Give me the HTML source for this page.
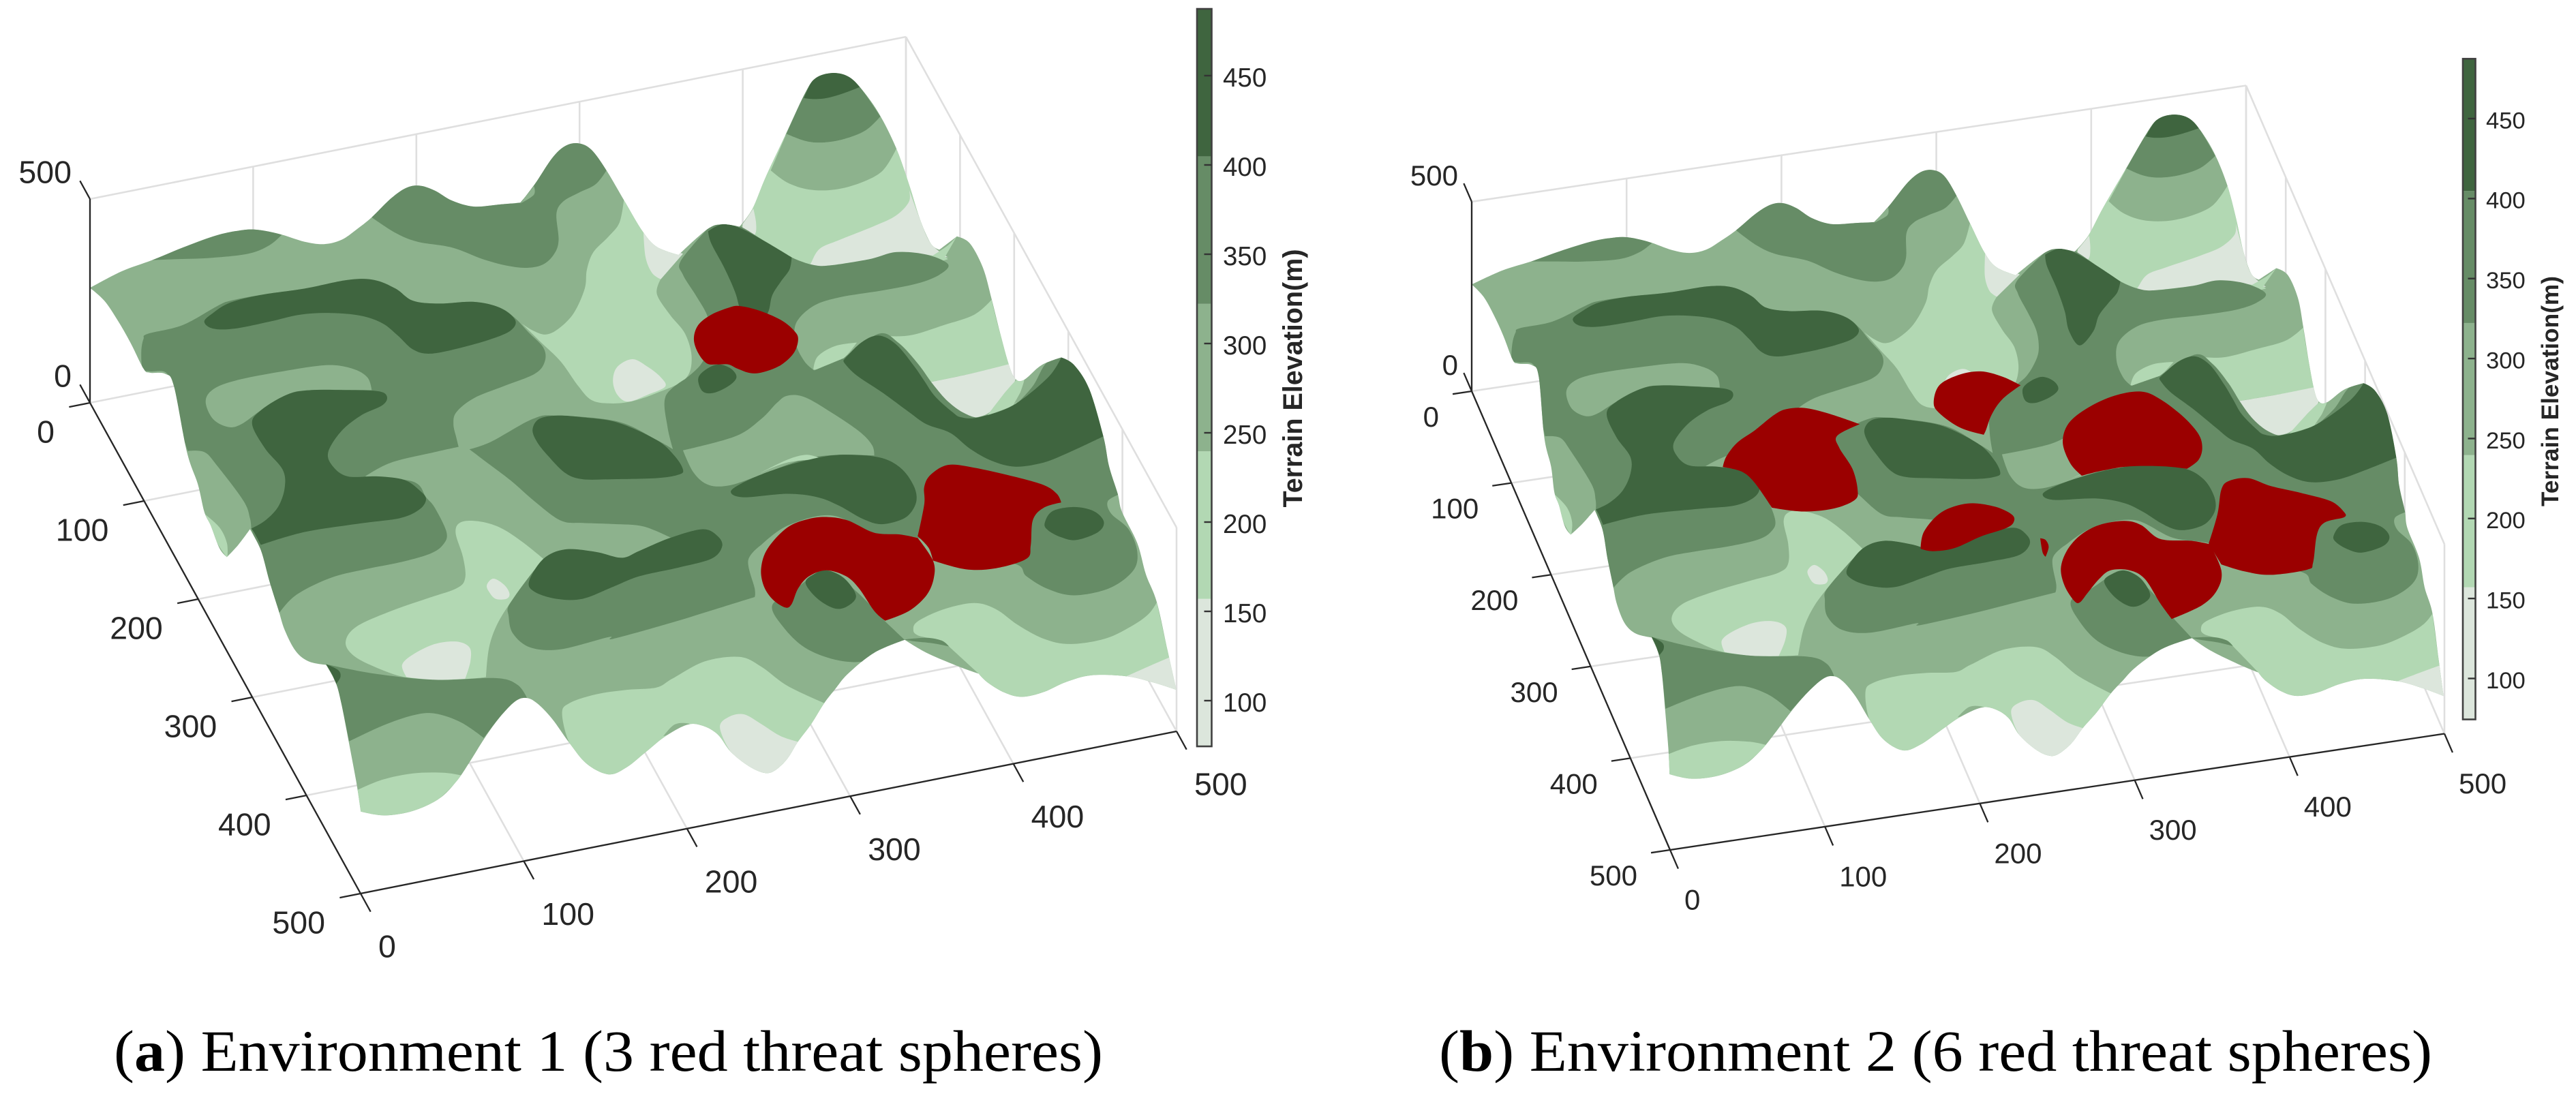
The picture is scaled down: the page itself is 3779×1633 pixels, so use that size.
<!DOCTYPE html>
<html lang="en">
<head>
<meta charset="utf-8">
<title>Terrain environments with threat spheres</title>
<style>
html,body{margin:0;padding:0;background:#fff;}
svg{display:block;}
text{font-family:"Liberation Sans",Arial,sans-serif;fill:#262626;}
.cap{font-family:"Liberation Serif",serif;fill:#000;}
</style>
</head>
<body>
<svg id="fig" xmlns="http://www.w3.org/2000/svg" width="3779" height="1633" viewBox="0 0 3779 1633">
  <text class="cap" x="167" y="1571" font-size="86" textLength="1451" lengthAdjust="spacingAndGlyphs">(<tspan font-weight="bold">a</tspan>) Environment 1 (3 red threat spheres)</text>
  <text class="cap" x="2111" y="1571" font-size="86" textLength="1457" lengthAdjust="spacingAndGlyphs">(<tspan font-weight="bold">b</tspan>) Environment 2 (6 red threat spheres)</text>
</svg>
<script>
// ---- chart values ----
const xTickValues = [0,100,200,300,400,500];
const yTickValues = [0,100,200,300,400,500];
const zTickValues = [0,500];
const colorbarTickValues = [100,150,200,250,300,350,400,450];
const elevationLevels = [74.4,157,239.6,322.2,404.8,487.4];
const bandColors = ['#dce6dc','#b2d8b3','#8db28d','#668c66','#3f653f'];
const threatColor = '#9b0000';

// ---- terrain contour outlines ----
const surfaceOutline = "A 207,828! 280,780 350,748 420,712 490,680 540,665 585,660 640,672 700,695 745,702 785,690 820,660 855,625 900,570 935,540 965,534 1000,548 1040,577 1090,594 1150,588 1197,583! 1230,530 1270,455 1300,420 1330,412 1360,430 1395,490 1435,575 B 67,665 100,710 150,733! 215,660 250,645 290,652! 320,600 350,510 395,390 440,270 465,225 503,210 540,220 570,255 610,325 650,425 680,530 705,630 730,700 750,718! 790,680! 820,700 850,770 870,860 890,960 910,1050 925,1090 945,1092 985,1050 1030,1028! 1060,1050 1095,1120 1127,1255 1140,1340 D 1160,48 1170,100 1205,190 1225,280 1250,360 1275,500 1295,612! 1240,590 1180,573 1100,570 1040,590 990,618 940,632 900,620 860,590 840,565! 795,545 720,505 670,468! 600,505 540,565 510,610 485,650 455,710 425,760 400,810 370,845 345,850 310,830 270,790 240,740 205,715 170,712 120,745 75,790 30,835 C 1400,855 1350,825 1310,765 1270,695 1235,650 1210,635 1185,645 1150,690 1115,750 1080,820 1050,875 1010,925 950,960 885,973 830,962! 820,880 802,760 785,650 772,590 750,540! 710,530 680,500 655,440 640,380 620,300 600,210 575,150! 548,195 522,230! 505,205 485,140 470,100 455,20 A 430,1300 400,1110 380,1075 345,1072 330,1060 300,985 270,920 240,865";

const terrainLayers = [
 ['far-peak-band-200', 1, "B 297,650! 320,600 350,510 395,390 650,425 680,530 705,630 730,700 770,745! 600,800 450,800 300,800"],
 ['far-peak-band-300', 2, "B 362,490! 400,525 450,545 510,545 570,525 620,490 652,425! 612,335 580,375 530,400 480,410 440,405 398,385!"],
 ['far-peak-band-350', 3, "B 398,385! 440,405 480,410 530,400 580,375 614,335! 570,255 540,220 503,210 465,225 440,270"],
 ['far-peak-cap', 4, "B 438,282! 460,285 490,282 530,268 567,250! 540,215 503,205 465,220"],
 ['far-valley-pale', 0, "B 680,545! 705,630 730,700 770,740! 700,730 650,725 590,745 500,763 450,770! 455,755 475,715 520,690 600,650 650,620 680,580"],
 ['far-valley-pale-small', 0, "B 297,645! 322,600! 328,640 325,675 297,690!"],
 ['back-basin-band-200', 1, "A 1435,575! 1425,640 1400,680 1365,725 1350,775 1345,830 1320,900 1285,945 1255,962 1225,950 1200,930! 1245,985 1290,1040 1330,1110 1360,1150 1400,1160 1450,1155 1511,1130 1576,1090 1591,1030 1576,960 1541,905 1511,845 1521,800! 1571,730! 1561,725 1511,700 1478,650!"],
 ['back-valley-pale', 0, "A 1480,665! 1485,740 1500,785 1520,803! 1571,730! 1561,725 1511,700"],
 ['basin-oval-pale', 0, "A 1410,1095 1420,1055 1455,1033 1490,1055 1520,1085 1530,1112 1490,1135 1445,1155 1420,1135"],
 ['back-left-band-350', 3, "A 350,748! 420,712 490,680 540,660 585,655 648,675! 620,705 570,730 480,742 410,745"],
 ['back-ridge-band-350', 3, "A 855,625! 900,565 935,535 965,530 1000,545 1040,572 1090,590 1150,584 1197,580 1230,525 1270,450 1300,415 1330,408 1360,425 1395,490! 1370,530 1330,555 1295,580 1280,615 1285,690 1275,730 1250,760 1215,770 1170,765 1110,745 1040,712 960,695 910,670"],
 ['back-ridge-sliver', 2, "A 1197,585! 1228,535! 1228,560"],
 ['right-ridge-band-200', 1, "B 610,965! 680,965 760,935 830,905 870,862! 890,960 915,1047! 820,1075 725,1100! 690,1050 650,990"],
 ['right-valley-pale', 0, "B 725,1100! 820,1075 910,1047! 925,1090 900,1130 860,1190 800,1200 760,1165"],
 ['right-sliver-band-200', 1, "B 860,1195! 900,1130 930,1090 945,1092 925,1165!"],
 ['right-sliver-band-300', 2, "B 920,1165! 945,1110 975,1055 1000,1040 965,1110"],
 ['right-sliver-band-350', 3, "B 925,1165! 965,1110 995,1045 1030,1028! 1000,1090"],
 ['top-sliver-band-200', 1, "B 732,737! 770,705 790,680! 760,745!"],
 ['ridge-pocket-band-200', 1, "B 460,1063! 470,1025 510,995 560,985! 530,1030 490,1060"],
 ['central-band-350', 3, "B 215,660! 250,640 290,650 350,695 410,740 460,762 500,763 590,745 650,725 720,732 770,760 750,790 700,815 620,835 520,855 460,880 420,930 420,990 440,1040 462,1065! 530,1030! 610,960 655,985 700,1045 735,1105 770,1155 810,1190 850,1200 920,1170 1000,1090 1030,1025! 1065,1050 1100,1120 1132,1255 1145,1340 D 1163,50! 1137,70 1145,105 1185,150 1205,215 1195,270 1140,320 1060,340 1000,322 950,285 925,250 810,230 700,175 600,160 500,110 400,140 340,195! 310,240 325,320 325,345! 260,370 130,420 0,465 C 1400,460 1290,495 1220,490 1180,450 1170,400 1172,365 1218,285 1250,235! 1300,208 1370,215 1430,232 1471,212 1546,176! 1480,142 1411,135 1340,132 1290,125 1230,70 1175,10 A 1120,1330 1080,1292! 1130,1270 1225,1205 1280,1195 1420,1212 1510,1265 1548,1292! 1535,1225 1531,1140 1576,1090! B 200,1050 220,1000 225,960 215,905 190,850 160,790 155,750"],
 ['center-island-band-300', 2, "B 160,1295! 280,1255 340,1205 375,1160 400,1138 440,1142 500,1185 565,1240 595,1280 600,1310! 520,1308 440,1320 340,1365 270,1395 220,1395 185,1360"],
 ['center-island-band-200', 1, "B 335,1362! 400,1322 445,1308 480,1320! 400,1330"],
 ['left-band-350', 3, "A 330,975 340,960 420,935 500,880 530,865 600,848 700,830 800,805 860,805 910,830 950,865 1010,873 1090,868 1150,885 1185,915 1215,955 1250,1000 1253,1040 1230,1075 1160,1110 1090,1145 1050,1185 1043,1220 1050,1260 1055,1285! 1000,1300 900,1330 840,1370! 950,1385 980,1430 1000,1460 1027,1530 1020,1565 990,1592 920,1617 840,1637 760,1662 680,1712 640,1767! 615,1672 595,1582 578,1522! 575,1490 560,1440 500,1340 470,1300 432,1297! 415,1230 395,1110 380,1070 345,1068 328,1060 325,1010"],
 ['left-island-band-300', 2, "A 473,1155 490,1120 540,1095 640,1070 750,1050 810,1060 845,1085 855,1122! 715,1122 660,1135 600,1180 555,1220 525,1228 490,1205"],
 ['left-tip-band-200', 1, "C 470,105! 505,145 522,190 523,232! 500,190"],
 ['left-dark-ridge', 4, "A 470,925 490,900 530,870 600,848 700,830 800,805 860,805 910,830 950,865 1010,873 1090,868 1150,885 1185,920 1175,950 1130,975 1060,1000 990,1017 950,1005 915,965 880,930 830,908 760,900 690,905 620,925 540,945 490,945"],
 ['left-dark-s', 4, "A 580,1220 600,1180 660,1135 715,1122 800,1122 870,1125 890,1140 880,1165 830,1195 785,1240 755,1300 765,1340 800,1370 870,1370 930,1380 965,1410 980,1435 965,1465 920,1490 830,1505 700,1530 600,1567! 585,1532 578,1520! 610,1497 640,1457 655,1402 650,1350 610,1290"],
 ['middle-lobe-band-200', 1, "C 1048,160 1060,130 1100,127 1150,145 1200,185 1250,235! 1218,285 1180,350 1145,420 1125,490 1118,575! 1080,580 1000,583 930,575 870,550 815,515 795,475 820,430 900,385 980,350 1050,320 1070,290 1065,230"],
 ['middle-dot-pale', 0, "C 1120,310 1135,292 1160,310 1172,335 1165,350 1140,350 1125,330"],
 ['middle-oval-pale', 0, "C 925,540 950,510 1000,480 1050,473 1080,490 1082,530 1070,580! 1000,583 935,575!"],
 ['front-band-350', 3, "C 750,538! 860,565 1000,583 1140,578 1190,597 1212,635! 1185,645 1150,690 1113,750! 1060,705 1000,680 950,685 880,715 803,760! 785,650 772,590"],
 ['front-dark-tip', 4, "C 750,538! 778,555 783,575 772,597! 765,570"],
 ['front-left-band-200', 1, "C 822,900! 880,870 950,852 1020,850 1062,858! 1010,925 950,960 885,973 828,965!"],
 ['front-mid-band-200', 1, "C 1293,680 1310,650 1370,625 1440,612 D 99,605 135,580 210,530 290,517 340,545 400,600 485,650! 455,710 425,760 400,810 370,845 345,850 310,830 270,790 240,740 205,715 170,712 120,745 75,790 30,835 C 1400,855 1350,825 1310,765"],
 ['front-notch-band-300', 2, "D 115,745! 140,712 170,708 190,720!"],
 ['front-mid-pale', 0, "D 245,720 265,690 300,682 340,710 385,745 428,762! 400,810 370,845 345,850 310,830 270,790"],
 ['front-right-band-200', 1, "D 690,440 700,415 760,380 830,362 880,380 930,425 990,465 1050,480 1130,465 1190,430 1230,395 1250,360! 1275,500 1295,612! 1240,590 1180,573 1100,570 1040,590 990,618 940,632 900,620 860,590 840,565! 770,485! 730,465 700,455"],
 ['front-corner-pale', 0, "D 1180,573! 1230,545 1280,518! 1300,620! 1240,590"],
 ['fold-cap-band-350', 3, "D 668,467! 720,462 755,470 772,487! 735,478 690,472"],
 ['lobe-band-350', 3, "D 365,370 390,430 440,490 510,525 575,530 620,500 670,468! 625,415! 560,330 490,268 410,330"],
 ['central-dark-west', 4, "A 1225,1235 1240,1205 1280,1195 1340,1200 1420,1215 1510,1265 1551,1310 1571,1350 1561,1365 1511,1375 1411,1378 1340,1378 1300,1360 1260,1310 1235,1270"],
 ['central-dark-south', 4, "C 1217,300 1250,235 1300,208 1370,215 1430,232 1471,212 1541,175 1616,150 1651,170 1661,200 1636,235 1561,260 1471,285 1411,315 1340,350 1280,350 1230,330"],
 ['right-dark-ridge', 4, "B 530,1035! 570,985 610,965 650,990 690,1050 715,1095 740,1140 780,1185 800,1200 840,1200 920,1165 1000,1085 1030,1028! 1060,1050 1095,1120 1127,1255! 1050,1300 990,1330 925,1342 870,1325 820,1290 775,1245 720,1220 680,1185 620,1130 560,1080 532,1045"],
 ['north-dark-cap', 4, "B 218,665! 250,645 290,655 350,695 410,740! 405,775 385,810 365,850 355,900 325,945 295,900 280,840 255,770 225,700"],
 ['north-dark-blob', 4, "B 195,1090 210,1065 240,1048 270,1060 283,1085 265,1110 230,1130 205,1125"],
 ['center-dark-teardrop', 4, "B 270,1415 295,1390 360,1355 440,1325 520,1308 610,1315 660,1345 690,1395 697,1440 680,1480 650,1500 610,1507 570,1490 520,1455 470,1430 400,1420 300,1430"],
 ['east-dark-blob', 4, "B 992,1505 1010,1470 1060,1458 1105,1470 1128,1500 1115,1530 1065,1553 1030,1545 1000,1525"],
 ['lobe-dark-blob', 4, "D 442,305 460,280 490,268 530,290 558,340 540,370 510,378 470,350"]
];

const threatsA = [
 "B 185,975 195,935 225,905 265,885 290,880 335,893 385,920 415,950 425,975 415,1015 385,1050 345,1070 315,1073 285,1060 265,1048 240,1048 215,1045 195,1015",
 "B 715,1400 730,1365 770,1337 830,1345 920,1370 990,1395 1020,1420 1030,1445! 990,1460 965,1495 960,1568 950,1607 880,1634 810,1637 735,1612! 725,1575 700,1542! 715,1450",
 "D 340,260 355,205 400,145 450,120 495,115 540,125 600,160 660,165 700,175! 735,240 737,290 720,340 680,385 625,413! 600,385 565,320 535,285 490,268 450,285 425,320 410,365 395,375 365,350 345,310"
];
const threatsB = [
 "E 827,1245! 835,1215 860,1175 900,1140 945,1095 975,1078 1020,1076 1080,1095 1142,1122! 1090,1155 1095,1190 1125,1250 1137,1310 1130,1340 1080,1365 1010,1373 940,1362! 900,1290 870,1258",
 "E 1312,1060 1325,1010 1370,980 1420,970 1470,985 1512,1010! 1470,1050 1445,1095 1430,1145 1420,1150 1370,1130 1325,1090",
 "F 225,1175 240,1120 290,1075 360,1040 430,1028 480,1050 540,1100 580,1150 590,1190 580,1225 550,1250! 490,1243 400,1243 330,1255 275,1270! 245,1235",
 "E 1282,1480! 1290,1430 1330,1375 1390,1350 1450,1358 1490,1380 1497,1400 1480,1420 1420,1445 1360,1478 1310,1487",
 "F 166,1450! 180,1455 188,1475 180,1503! 172,1490",
 "F 640,1310 660,1285 710,1277 770,1300 850,1320 930,1345 965,1380! 960,1390 910,1405 890,1440 880,1520 865,1540 770,1555 700,1545 640,1525! 607,1465! 630,1380",
 "H 220,165 235,115 270,70 320,40 385,28 430,40 480,80 560,85 610,95! 640,170 630,225 590,270 510,310! 480,265 440,195 400,170 350,170 320,195 290,235 270,262 255,258 230,215"
];

// ---- scales ----
const svgNS = 'http://www.w3.org/2000/svg';
const fig = document.getElementById('fig');
function mk(tag, parent, attrs){
  const el = document.createElementNS(svgNS, tag);
  for (const k in attrs) el.setAttribute(k, attrs[k]);
  (parent || fig).appendChild(el);
  return el;
}
const sheetMap = {
  A:(x,y)=>[x/1.568, y/1.96],
  B:(x,y)=>[(x+1411)/1.568, y/1.96],
  C:(x,y)=>[x/1.568, (y+1372)/1.96],
  D:(x,y)=>[(x+1411)/1.568, (y+1372)/1.96],
  E:(x,y)=>[2000+x/1.568, 50+y/1.96],
  F:(x,y)=>[2900+x/1.784, 50+y/1.96],
  G:(x,y)=>[2000+x/1.568, 750+y/1.96],
  H:(x,y)=>[2900+x/1.784, 750+y/1.96]
};
function parseOutline(s){
  let map = sheetMap.A, out = [];
  s.trim().split(/\s+/).forEach(tok=>{
    if (sheetMap[tok]) { map = sheetMap[tok]; return; }
    const corner = tok.endsWith('!');
    const p = tok.replace('!','').split(',').map(Number);
    const q = map(p[0],p[1]);
    out.push({x:q[0],y:q[1],corner});
  });
  return out;
}
function smoothPath(pts){
  const n = pts.length;
  let d = 'M'+pts[0].x.toFixed(1)+' '+pts[0].y.toFixed(1);
  for (let i=0;i<n;i++){
    const p0=pts[(i-1+n)%n],p1=pts[i],p2=pts[(i+1)%n],p3=pts[(i+2)%n];
    const a=p1.corner?0:1/6,b=p2.corner?0:1/6;
    d+='C'+(p1.x+(p2.x-p0.x)*a).toFixed(1)+' '+(p1.y+(p2.y-p0.y)*a).toFixed(1)+' '
      +(p2.x-(p3.x-p1.x)*b).toFixed(1)+' '+(p2.y-(p3.y-p1.y)*b).toFixed(1)+' '
      +p2.x.toFixed(1)+' '+p2.y.toFixed(1);
  }
  return d+'Z';
}
function homography(src,dst){
  const A=[];
  for(let i=0;i<4;i++){
    const [x,y]=src[i],[u,v]=dst[i];
    A.push([x,y,1,0,0,0,-u*x,-u*y,u]);
    A.push([0,0,0,x,y,1,-v*x,-v*y,v]);
  }
  for(let c=0;c<8;c++){
    let m=c; for(let r=c+1;r<8;r++) if(Math.abs(A[r][c])>Math.abs(A[m][c])) m=r;
    const t=A[c];A[c]=A[m];A[m]=t;
    for(let r=0;r<8;r++){ if(r===c) continue;
      const f=A[r][c]/A[c][c];
      for(let k=c;k<9;k++) A[r][k]-=f*A[c][k];
    }
  }
  const h=A.map((row,i)=>row[8]/row[i]);
  return p=>{
    const w=h[6]*p.x+h[7]*p.y+1;
    return {x:(h[0]*p.x+h[1]*p.y+h[2])/w,y:(h[3]*p.x+h[4]*p.y+h[5])/w,corner:p.corner};
  };
}
const identity = p=>p;
const toPanelB = homography(
  [[132,422],[528,1191],[1726,1011],[1221,107]],
  [[2159,417],[2448,1136],[3585,1020],[3190,168]]
);

const panels = [
 {id:'a', origin:[132,591], ex:[1197,-238], ey:[397,720], ez:[0,-299], warp:identity, threats:threatsA,
  tickFont:46.5, xTickLen:18.5, yTickLen:12.8, zTickLen:18.5,
  xLab:[26,77], yLab:[-52,42], zLab:[-27,-40],
  cb:{x0:1756,x1:1777.5,yAt450:111,pxPerUnit:2.62,labelX:1794,font:38.5},
  title:{x:1910,y:555,font:39.4,len:379}},
 {id:'b', origin:[2159,574], ex:[1136,-170.5], ey:[291,673], ez:[0,-278], warp:toPanelB, threats:threatsB,
  tickFont:42, xTickLen:20.5, yTickLen:12.3, zTickLen:20,
  xLab:[21,72.5], yLab:[-48,37], zLab:[-20,-39],
  cb:{x0:3613,x1:3631.5,yAt450:174,pxPerUnit:2.347,labelX:3647,font:34.6},
  title:{x:3753,y:574,font:35,len:338}}
];

panels.forEach(P=>{
  const project = (x,y,z)=>[
    P.origin[0]+x/500*P.ex[0]+y/500*P.ey[0]+z/500*P.ez[0],
    P.origin[1]+x/500*P.ex[1]+y/500*P.ey[1]+z/500*P.ez[1]
  ];
  const group = mk('g', fig, {});
  
  

  // grid
  const grid = mk('g', group, {stroke:'#dfdfdf','stroke-width':2.6,fill:'none'});
  
  
  const seg = (parent,a,b)=>mk('line',parent,{x1:a[0],y1:a[1],x2:b[0],y2:b[1]});
  xTickValues.forEach(v=>{
    const l1 = seg(grid, project(v,0,0), project(v,500,0));
    
    
    const l2 = seg(grid, project(v,0,0), project(v,0,500));
    
    
  });
  yTickValues.forEach(v=>{
    const l1 = seg(grid, project(0,v,0), project(500,v,0));
    
    
    const l2 = seg(grid, project(500,v,0), project(500,v,500));
    
    
  });
  const topBack = seg(grid, project(0,0,500), project(500,0,500));
  
  
  const topSide = seg(grid, project(500,0,500), project(500,500,500));
  
  

  // terrain
  const clip = mk('clipPath', group, {id:'surface-clip-'+P.id});
  const silhouette = smoothPath(parseOutline(surfaceOutline).map(P.warp));
  mk('path', clip, {d:silhouette});
  const base = mk('path', group, {d:silhouette, fill:bandColors[2]});
  
  
  const terrain = mk('g', group, {'clip-path':'url(#surface-clip-'+P.id+')'});
  
  
  terrainLayers.forEach(layer=>{
    const path = mk('path', terrain, {d:smoothPath(parseOutline(layer[2]).map(P.warp)), fill:bandColors[layer[1]]});
    
    
  });

  P.threats.forEach((t,i)=>{
    const pts = parseOutline(t).map(/^[ABCD]/.test(t)?P.warp:identity);
    const path = mk('path', group, {d:smoothPath(pts), fill:threatColor});
    
    
  });

  // axes
  const axes = mk('g', group, {stroke:'#262626','stroke-width':2.3,fill:'none'});
  
  
  const xAxis = seg(axes, project(0,500,0), project(500,500,0));
  
  
  const yAxis = seg(axes, project(0,0,0), project(0,500,0));
  
  
  const zAxis = seg(axes, project(0,0,0), project(0,0,500));
  
  

  const label = (parent,txt,x,y,font,anchor)=>mk('text',parent,{x:x,y:y+font*0.358,'font-size':font,'text-anchor':anchor});
  xTickValues.forEach(v=>{
    const a=project(v,500,0), t=seg(axes,a,project(v,500+P.xTickLen,0));
    
    
    const tx = label(group,v,a[0]+P.xLab[0],a[1]+P.xLab[1],P.tickFont,'start');
    tx.textContent = v;
    
    
  });
  yTickValues.forEach(v=>{
    const a=project(0,v,0), t=seg(axes,a,project(-P.yTickLen,v,0));
    
    
    const tx = label(group,v,a[0]+P.yLab[0],a[1]+P.yLab[1],P.tickFont,'end');
    tx.textContent = v;
    
    
  });
  zTickValues.forEach(v=>{
    const a=project(0,0,v), t=seg(axes,a,project(0,-P.zTickLen,v));
    
    
    const tx = label(group,v,a[0]+P.zLab[0],a[1]+P.zLab[1],P.tickFont,'end');
    tx.textContent = v;
    
    
  });

  // colorbar
  const C = P.cb, cy = v=>C.yAt450+(450-v)*C.pxPerUnit;
  const bar = mk('g', group, {});
  
  
  bandColors.forEach((col,i)=>{
    const top=cy(elevationLevels[i+1]), bot=cy(elevationLevels[i]);
    const r = mk('rect', bar, {x:C.x0,y:top,width:C.x1-C.x0,height:bot-top,fill:col});
    
    
  });
  const frame = mk('rect', bar, {x:C.x0,y:cy(elevationLevels[5]),width:C.x1-C.x0,height:cy(elevationLevels[0])-cy(elevationLevels[5]),fill:'none',stroke:'#404040','stroke-width':2.6});
  
  
  colorbarTickValues.forEach(v=>{
    const t = mk('line', bar, {x1:C.x1-11,y1:cy(v),x2:C.x1,y2:cy(v),stroke:'#333','stroke-width':2.4});
    
    
    const tx = label(bar,v,C.labelX,cy(v)+2,C.font,'start');
    tx.textContent = v;
    
    
  });
  const T = P.title;
  const title = mk('text', bar, {transform:'translate('+T.x+' '+T.y+') rotate(-90)','text-anchor':'middle','font-size':T.font,'font-weight':'bold',textLength:T.len,lengthAdjust:'spacingAndGlyphs'});
  title.textContent = 'Terrain Elevation(m)';
  
  
});
</script>
</body>
</html>
